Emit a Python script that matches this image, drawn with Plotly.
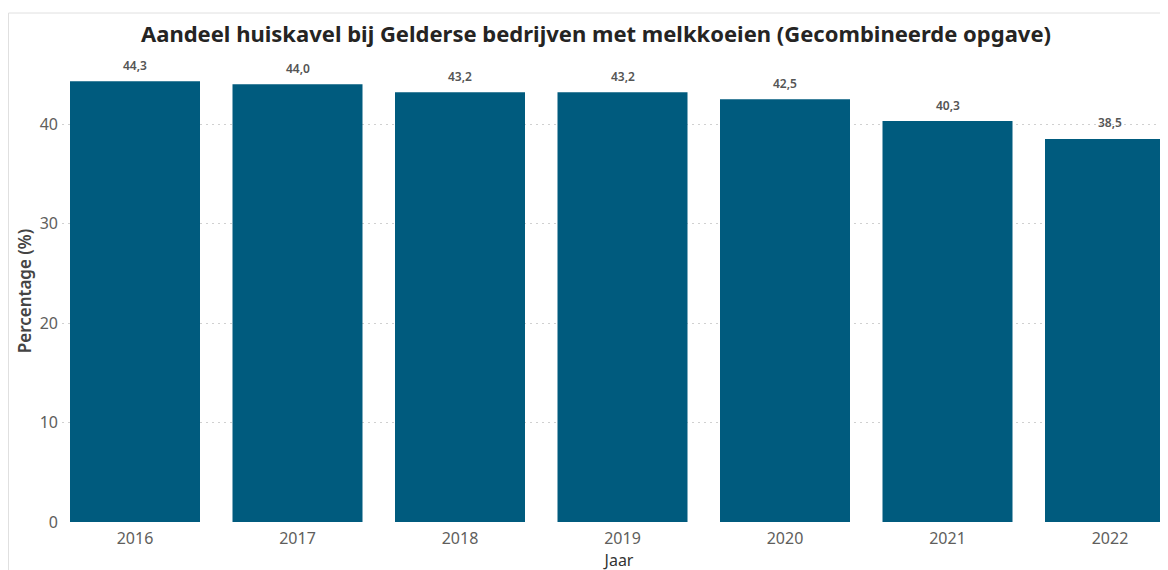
import plotly.graph_objects as go

years = ["2016", "2017", "2018", "2019", "2020", "2021", "2022"]
values = [44.3, 44.0, 43.2, 43.2, 42.5, 40.3, 38.5]
title_text = "Aandeel huiskavel bij Gelderse bedrijven met melkkoeien (Gecombineerde opgave)"
y_ticks = [0, 10, 20, 30, 40]

FONT = "Noto Sans"
# page body has an 8px margin: figure coords = window coords - 8
W, H = 1168, 570
ML, MR, MT, MB = 54, 0, 52, 56
STEP = 162.5      # px per category
C0 = 127          # x of first category centre (figure coords)
PXU = 9.95        # px per y unit

fig = go.Figure(go.Bar(
    x=years, y=values,
    marker=dict(color="#005B7E", line=dict(width=0)),
    hovertemplate="%{x}: %{y:.1f}<extra></extra>",
))

# data labels above the bars
for i, v in enumerate(values):
    fig.add_annotation(
        x=i, y=v, xref="x", yref="y",
        text=f"{v:.1f}".replace(".", ","),
        showarrow=False, yanchor="middle", yshift=16,
        font=dict(family=FONT, size=12, color="#555555", weight=600),
    )

plot_w = W - ML - MR
plot_h = H - MT - MB
top_y = 1 + (MT - 5) / plot_h
left_x = (0.5 - ML) / plot_w
fig.update_layout(
    width=W, height=H,
    margin=dict(l=ML, r=MR, t=MT, b=MB),
    plot_bgcolor="white", paper_bgcolor="white",
    separators=",.",
    bargap=0.2,
    showlegend=False,
    title=dict(text="<b>" + title_text + "</b>", x=(588 - ML) / plot_w, xref="paper", xanchor="center",
               y=1 - 26 / H, yanchor="middle",
               font=dict(family=FONT, size=22, color="#252423")),
    xaxis=dict(
        type="category",
        range=[-(C0 - ML) / STEP, (W - C0) / STEP],
        showgrid=False, showline=False, ticks="",
        ticklabelstandoff=5,
        tickfont=dict(family=FONT, size=16, color="#605E5C"),
        title=dict(text="Jaar", font=dict(family=FONT, size=16, color="#333333"), standoff=0),
    ),
    yaxis=dict(
        range=[0, plot_h / PXU],
        tickvals=y_ticks,
        showgrid=True, gridcolor="#d0d0d0", griddash="2px,4px", gridwidth=1,
        zeroline=False, showline=False, ticks="",
        ticklabelstandoff=3,
        tickfont=dict(family=FONT, size=16, color="#605E5C"),
        title=dict(text="Percentage (%)", font=dict(family=FONT, size=17, color="#444444", weight=600), standoff=3),
    ),
    font=dict(family=FONT),
    shapes=[
        dict(type="line", xref="paper", yref="paper",
             x0=left_x, x1=1.02, y0=top_y, y1=top_y,
             line=dict(color="#e0e0e0", width=1)),
        dict(type="line", xref="paper", yref="paper",
             x0=left_x, x1=left_x, y0=top_y, y1=-0.3,
             line=dict(color="#e0e0e0", width=1)),
    ],
)

fig.write_html("out.html")
